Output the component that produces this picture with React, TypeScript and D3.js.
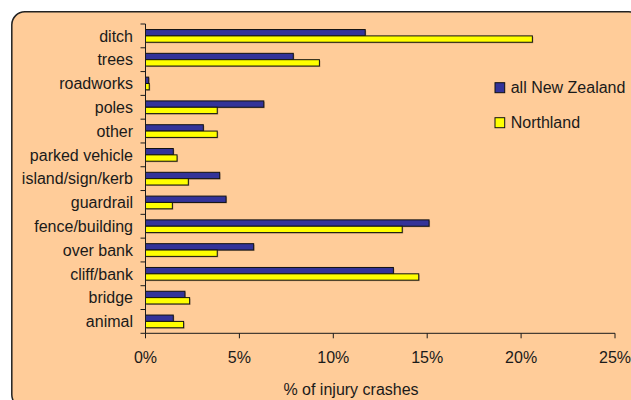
import React from "react";
import * as d3 from "d3";

// Object struck in injury crashes, share of crashes (%)
const categories = [
  "ditch",
  "trees",
  "roadworks",
  "poles",
  "other",
  "parked vehicle",
  "island/sign/kerb",
  "guardrail",
  "fence/building",
  "over bank",
  "cliff/bank",
  "bridge",
  "animal",
];
const allNewZealand = [11.7, 7.87, 0.17, 6.3, 3.08, 1.48, 3.95, 4.29, 15.1, 5.76, 13.2, 2.1, 1.48];
const northland = [20.6, 9.26, 0.2, 3.82, 3.82, 1.68, 2.28, 1.43, 13.67, 3.82, 14.55, 2.35, 2.03];
const seriesNames = ["all New Zealand", "Northland"];
const xTicks = [0, 5, 10, 15, 20, 25];
const axisTitle = "% of injury crashes";

const W = 631;
const H = 400;
const colors = ["#333399", "#FFFF00"];
const font = "'Liberation Sans', Arial, sans-serif";
const ink = "#1a1a1a";

export default function App() {
  const x = d3.scaleLinear().domain([0, 25]).range([145.5, 615]);
  const y = d3.scaleBand<string>().domain(categories).range([24, 333.3]).padding(0);
  const band = y.bandwidth();
  const barH = band * 0.267;
  const series = [allNewZealand, northland];
  const x0 = x(0);
  const yBottom = 333.3;

  return (
    <svg
      width={W}
      height={H}
      style={{ position: "absolute", left: 0, top: 0, display: "block" }}
      fontFamily={font}
    >
      <rect x={0} y={0} width={W} height={H} fill="#ffffff" />
      {/* chart area */}
      <rect
        x={11.8}
        y={11.8}
        width={630}
        height={396}
        rx={13}
        ry={13}
        fill="#FFCC99"
        stroke="#222"
        strokeWidth={1.5}
      />

      {/* bars */}
      {categories.map((c, i) => {
        const center = (y(c) as number) + band / 2;
        return (
          <g key={c}>
            {series.map((s, k) => {
              const top = center - barH + k * barH;
              const w = x(s[i]) - x0;
              return (
                <g key={k}>
                  <rect
                    x={x0 + 1}
                    y={top + 1}
                    width={w}
                    height={barH}
                    fill="#000"
                    opacity={0.25}
                  />
                  <rect
                    x={x0}
                    y={top}
                    width={w}
                    height={barH}
                    fill={colors[k]}
                    stroke="#111"
                    strokeWidth={1}
                  />
                </g>
              );
            })}
          </g>
        );
      })}

      {/* y axis */}
      <line x1={x0} x2={x0} y1={24} y2={yBottom} stroke={ink} strokeWidth={1} />
      {categories.map((c) => (
        <line
          key={"yt" + c}
          x1={x0 - 5}
          x2={x0}
          y1={y(c) as number}
          y2={y(c) as number}
          stroke={ink}
          strokeWidth={1}
        />
      ))}
      <line x1={x0 - 5} x2={x0} y1={yBottom} y2={yBottom} stroke={ink} strokeWidth={1} />
      {categories.map((c) => (
        <text
          key={"yl" + c}
          x={133}
          y={(y(c) as number) + band / 2}
          dy="0.36em"
          textAnchor="end"
          fontSize={16}
          fill={ink}
        >
          {c}
        </text>
      ))}

      {/* x axis */}
      <line x1={x0} x2={x(25)} y1={yBottom} y2={yBottom} stroke={ink} strokeWidth={1} />
      {xTicks.map((t) => (
        <g key={"xt" + t}>
          <line x1={x(t)} x2={x(t)} y1={yBottom} y2={yBottom + 5} stroke={ink} strokeWidth={1} />
          <text x={x(t)} y={363} textAnchor="middle" fontSize={16} fill={ink}>
            {t + "%"}
          </text>
        </g>
      ))}
      <text x={351} y={395} textAnchor="middle" fontSize={16} fill={ink}>
        {axisTitle}
      </text>

      {/* legend */}
      {seriesNames.map((n, k) => (
        <g key={n} transform={`translate(495, ${82.7 + k * 35})`}>
          <rect x={0} y={0} width={9.7} height={10} fill={colors[k]} stroke="#111" strokeWidth={1} />
          <text x={15.7} y={10} fontSize={16} fill={ink}>
            {n}
          </text>
        </g>
      ))}
    </svg>
  );
}
